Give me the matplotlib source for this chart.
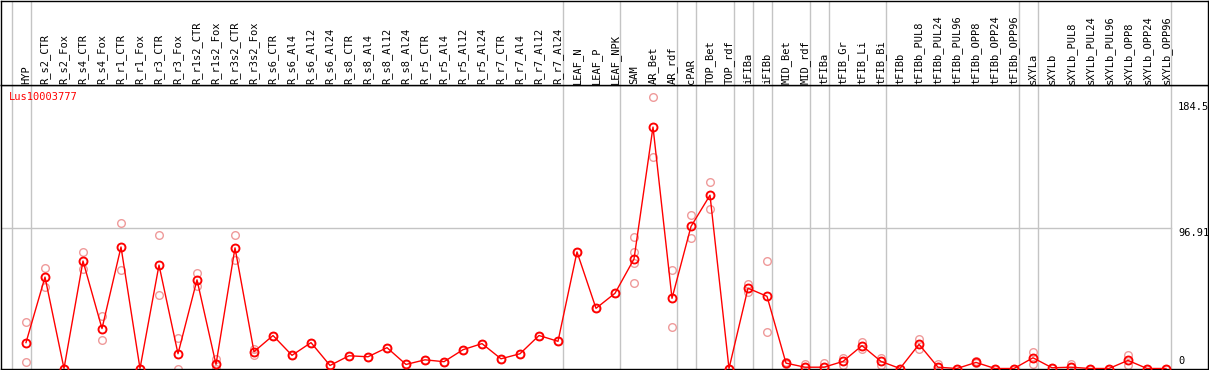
import matplotlib
matplotlib.use("Agg")
import matplotlib.pyplot as plt
import numpy as np

plt.rcParams['font.family'] = ['DejaVu Sans Mono']

# ── 데이터 ─────────────────────────────────────────────────────────
samples = [
    "HYP", "R_s2_CTR", "R_s2_Fox", "R_s4_CTR", "R_s4_Fox", "R_r1_CTR", "R_r1_Fox",
    "R_r3_CTR", "R_r3_Fox", "R_r1s2_CTR", "R_r1s2_Fox", "R_r3s2_CTR", "R_r3s2_Fox",
    "R_s6_CTR", "R_s6_Al4", "R_s6_Al12", "R_s6_Al24", "R_s8_CTR", "R_s8_Al4",
    "R_s8_Al12", "R_s8_Al24", "R_r5_CTR", "R_r5_Al4", "R_r5_Al12", "R_r5_Al24",
    "R_r7_CTR", "R_r7_Al4", "R_r7_Al12", "R_r7_Al24", "LEAF_N", "LEAF_P", "LEAF_NPK",
    "SAM", "AR_Bet", "AR_rdf", "cPAR", "TOP_Bet", "TOP_rdf", "iFIBa", "iFIBb",
    "MID_Bet", "MID_rdf", "tFIBa", "tFIB_Gr", "tFIB_Li", "tFIB_Bi", "tFIBb",
    "tFIBb_PUL8", "tFIBb_PUL24", "tFIBb_PUL96", "tFIBb_OPP8", "tFIBb_OPP24", "tFIBb_OPP96",
    "sXYLa", "sXYLb", "sXYLb_PUL8", "sXYLb_PUL24", "sXYLb_PUL96", "sXYLb_OPP8",
    "sXYLb_OPP24", "sXYLb_OPP96",
]

mean_vals = [
    17.9, 63.2, 0.0, 74.3, 27.6, 84.0, 0.0, 71.5, 10.2, 61.3, 2.8, 83.4, 11.6,
    22.8, 9.1, 17.9, 2.1, 8.8, 8.1, 14.4, 2.8, 6.0, 4.7, 13.0, 17.2,
    6.7, 10.2, 22.8, 18.8, 80.6, 41.6, 52.0,
    75.7, 166.9, 48.5, 98.2, 119.8, 0.0, 55.5, 49.9,
    3.7, 0.9, 0.9, 4.9, 15.8, 4.9, 0.0,
    16.7, 0.9, 0.0, 4.2, 0.0, 0.0,
    7.4, 0.5, 0.9, 0.0, 0.0, 5.6, 0.0, 0.0,
]

rep_a = [
    31.8, 69.4, 0.0, 80.6, 36.2, 100.8, 0.0, 92.4, 21.4, 65.9, 6.5, 92.4, 13.7,
    22.8, 9.1, 17.9, 2.1, 8.8, 8.1, 14.4, 2.8, 6.0, 4.7, 13.0, 17.2,
    6.7, 10.2, 22.8, 18.8, 80.6, 41.6, 52.0,
    91.0, 187.8, 67.8, 105.8, 128.6, 0.0, 58.5, 74.0,
    4.5, 3.0, 3.7, 7.2, 18.1, 7.2, 0.0,
    20.2, 3.3, 0.0, 5.0, 0.0, 0.0,
    11.4, 0.5, 3.3, 0.0, 0.0, 9.1, 0.0, 0.0,
]

rep_b = [
    4.4, 56.6, 0.0, 68.7, 19.5, 67.8, 0.0, 50.6, 0.0, 57.1, 0.0, 74.7, 9.5,
    22.8, 9.1, 17.9, 2.1, 8.8, 8.1, 14.4, 2.8, 6.0, 4.7, 13.0, 17.2,
    6.7, 10.2, 22.8, 18.8, 80.6, 41.6, 52.0,
    59.2, 146.0, 28.8, 90.3, 110.5, 0.0, 53.1, 24.9,
    3.0, 0.9, 0.9, 2.1, 13.5, 2.1, 0.0,
    13.7, 0.9, 0.0, 3.5, 0.0, 0.0,
    3.2, 0.5, 0.9, 0.0, 0.0, 2.6, 0.0, 0.0,
]

rep_c = [
    17.9, 63.2, 0.0, 74.3, 27.6, 84.0, 0.0, 71.5, 10.2, 61.3, 2.8, 83.4, 11.6,
    22.8, 9.1, 17.9, 2.1, 8.8, 8.1, 14.4, 2.8, 6.0, 4.7, 13.0, 17.2,
    6.7, 10.2, 22.8, 18.8, 80.6, 41.6, 52.0,
    72.9, 166.9, 48.5, 98.2, 119.8, 0.0, 55.5, 49.9,
    3.7, 0.9, 0.9, 4.9, 15.8, 4.9, 0.0,
    16.7, 0.9, 0.0, 4.2, 0.0, 0.0,
    7.4, 0.5, 0.9, 0.0, 0.0, 5.6, 0.0, 0.0,
]
rep_d = [80.8 if s == "SAM" else None for s in samples]

# 그룹 경계 (이 인덱스의 컬럼 뒤에 세로선)
group_ends = [-1, 0, 28, 31, 34, 35, 37, 38, 39, 41, 42, 45, 52, 53, 60]
ytick_vals = [184.5, 96.91, 0]
gene_id = "Lus10003777"

# ── 레이아웃 (픽셀 기준) ──────────────────────────────────────────
W, H = 1209, 370
X0, DX = 26, 19          # 첫 컬럼 중심 / 컬럼 간격
HEAD = 85                # 헤더 높이
BOT = 368.5              # 0 값 위치
SCALE = 1.4467           # px per unit

xmin = (1 - X0) / DX
xmax = (1208 - X0) / DX
ymax = (BOT - HEAD) / SCALE

fig = plt.figure(figsize=(W / 100, H / 100), dpi=100)
ax = fig.add_axes([1 / W, (H - BOT) / H, 1207 / W, (BOT - HEAD) / H])
axh = fig.add_axes([1 / W, (H - HEAD) / H, 1207 / W, (HEAD - 0.5) / H])

grid_c = "#c4c4c4"
for a in (ax, axh):
    a.set_xlim(xmin, xmax)
    a.set_xticks([])
    a.set_yticks([])
    for sp in a.spines.values():
        sp.set_color("black")
        sp.set_linewidth(1.0)
    for g in group_ends:
        a.axvline(g + 0.26, color=grid_c, lw=1, zorder=0)

ax.set_ylim(0, ymax)
axh.set_ylim(0, 1)

# 가로 그리드 (96.91)
ax.plot([xmin, 60.27], [ytick_vals[1], ytick_vals[1]], color=grid_c, lw=1, zorder=0)

x = np.arange(len(samples))

# 반복 측정값 (연한 원)
rep_kw = dict(ls="none", marker="o", ms=5.5, mfc="none", mec="#ef9a9a", mew=1.0, zorder=2)
for reps in (rep_a, rep_b, rep_c):
    ax.plot(x, reps, **rep_kw)
xd = [i for i, v in enumerate(rep_d) if v is not None]
ax.plot(xd, [rep_d[i] for i in xd], **rep_kw)

# 평균선
ax.plot(x, mean_vals, color="red", lw=1, marker="o", ms=5.8, mfc="none",
        mec="red", mew=1.3, zorder=3)

# 샘플 라벨
for i, s in enumerate(samples):
    axh.text(i, 0.01, s, rotation=90, ha="center", va="bottom",
             fontsize=7.5, color="black")

# 유전자 ID
ax.text((9 - X0) / DX, (BOT - 97) / SCALE, gene_id, color="red",
        fontsize=7.5, ha="left", va="center")

# 오른쪽 y값
xl = (1178 - X0) / DX
ax.text(xl, ytick_vals[0], f"{ytick_vals[0]}", fontsize=7.5, ha="left", va="top")
ax.text(xl, ytick_vals[1], f"{ytick_vals[1]}", fontsize=7.5, ha="left", va="top")
ax.text(xl, 2 / SCALE, f"{ytick_vals[2]}", fontsize=7.5, ha="left", va="bottom")

fig.savefig("out.png", dpi=100)
